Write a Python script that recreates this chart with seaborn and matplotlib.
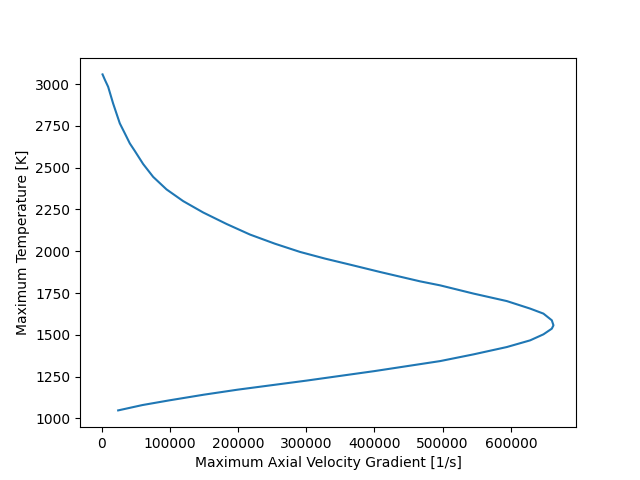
import matplotlib
matplotlib.use("Agg")
import matplotlib.pyplot as plt
import seaborn as sns
import pandas as pd

grad = [24400, 60000, 99200, 150000, 199500, 300100, 399900, 496400, 545100, 594100, 628300,
        647800, 660100, 662500, 660100, 647800, 628300, 594100, 545100, 496400,
        467000, 408300, 364300, 327700, 291000, 254300, 217600, 183400, 149000,
        119700, 95300, 75700, 61000, 48800, 41500, 34200, 26800, 17000, 9700, 5000, 1500]
temp = [1048, 1080, 1108, 1142, 1172, 1226, 1283, 1343, 1383, 1427, 1467,
        1503, 1537, 1557, 1587, 1627, 1657, 1702, 1747, 1796,
        1820, 1876, 1920, 1956, 1996, 2045, 2100, 2163, 2232,
        2300, 2370, 2445, 2522, 2600, 2645, 2705, 2765, 2884, 2984, 3025, 3058]

df = pd.DataFrame({"grad": grad, "temp": temp})

fig, ax = plt.subplots(figsize=(6.4, 4.8), dpi=100)
sns.lineplot(data=df, x="grad", y="temp", sort=False, estimator=None, ax=ax,
             color="#1f77b4", linewidth=1.5)
ax.set_xlabel("Maximum Axial Velocity Gradient [1/s]")
ax.set_ylabel("Maximum Temperature [K]")
fig.savefig("out.png", dpi=100)
